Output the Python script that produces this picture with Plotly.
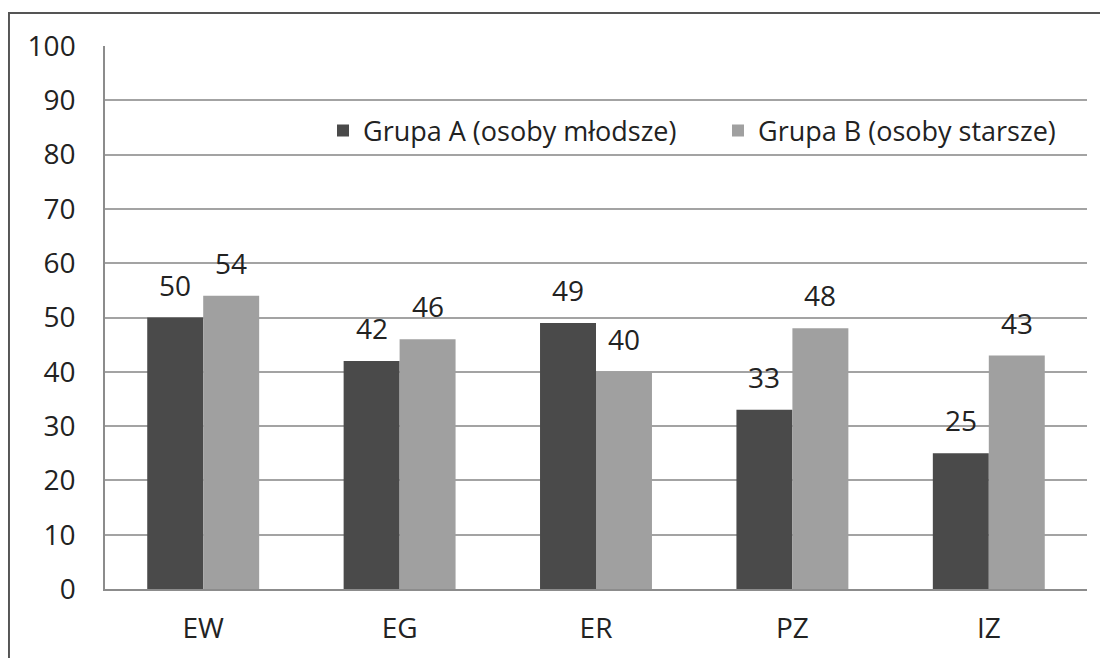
import plotly.graph_objects as go

categories = ["EW", "EG", "ER", "PZ", "IZ"]
group_a = [50, 42, 49, 33, 25]
group_b = [54, 46, 40, 48, 43]
name_a = "Grupa A (osoby młodsze)"
name_b = "Grupa B (osoby starsze)"
y_ticks = list(range(0, 101, 10))

FONT = "Open Sans"
TXT = "#222222"
DARK = "#4a4a4a"
LIGHT = "#a0a0a0"

fig = go.Figure()
fig.add_trace(go.Bar(x=categories, y=group_a, name=name_a, marker=dict(color=DARK, line=dict(width=0))))
fig.add_trace(go.Bar(x=categories, y=group_b, name=name_b, marker=dict(color=LIGHT, line=dict(width=0))))

# data labels
for vals, xs in ((group_a, -28), (group_b, 28)):
    for c, v in zip(categories, vals):
        fig.add_annotation(x=c, y=v, text=str(v), showarrow=False, xshift=xs, yshift=12,
                           yanchor="bottom", font=dict(family=FONT, size=28, color=TXT))

# outer frame
fig.add_shape(type="rect", xref="paper", yref="paper", x0=-0.0978, y0=-0.3, x1=1.2, y1=1.0608,
              line=dict(color="#555555", width=2), layer="below")

fig.update_layout(
    width=1100, height=650,
    margin=dict(l=97, r=21, t=38, b=69, autoexpand=False),
    paper_bgcolor="white", plot_bgcolor="white",
    barmode="group", bargap=0.43, bargroupgap=0,
    font=dict(family=FONT, size=28, color=TXT),
    showlegend=True,
    legend=dict(orientation="h", x=0.222, y=0.8435, xanchor="left", yanchor="middle",
                bgcolor="rgba(0,0,0,0)", font=dict(family=FONT, size=27, color=TXT),
                entrywidth=350, traceorder="normal"),
    xaxis=dict(showgrid=False, showline=True, linecolor="#8c8c8c", linewidth=1.5,
               ticks="", ticklabelstandoff=14, tickfont=dict(size=28), automargin=False),
    yaxis=dict(range=[0, 100], tickvals=y_ticks, showgrid=True, gridcolor="#a3a3a3", gridwidth=1.5,
               showline=True, linecolor="#8c8c8c", linewidth=1.5, zeroline=False,
               ticks="", ticklabelstandoff=22, tickfont=dict(size=28), automargin=False),
)

fig.write_html("out.html")
